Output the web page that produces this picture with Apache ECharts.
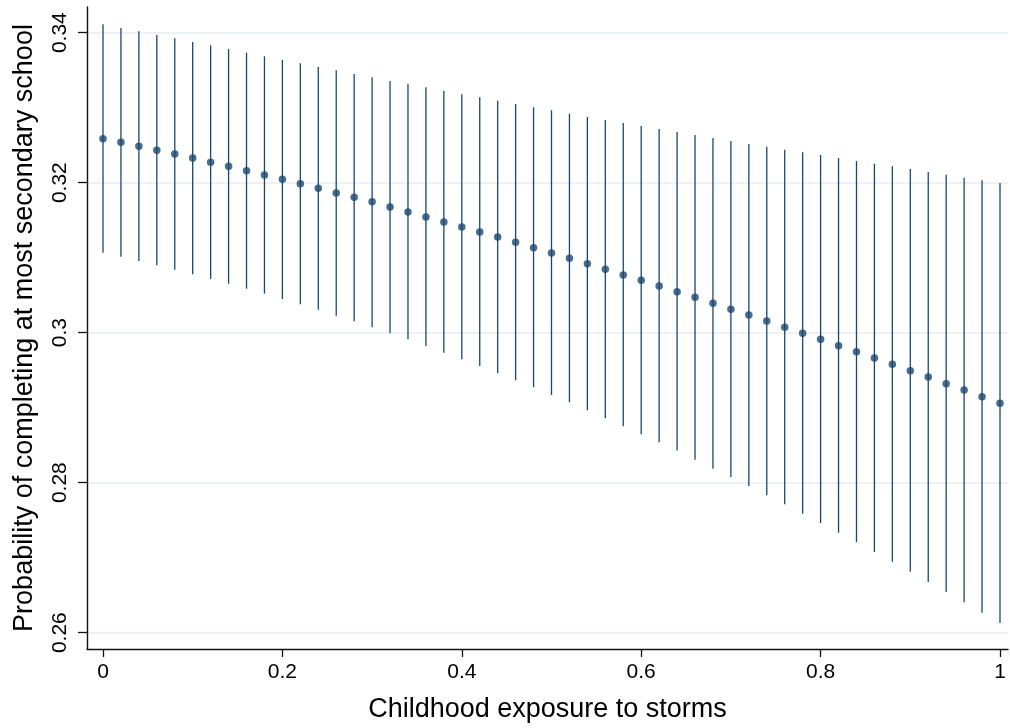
<!DOCTYPE html>
<html>
<head>
<meta charset="utf-8">
<script src="https://cdn.jsdelivr.net/npm/echarts@6/dist/echarts.min.js"></script>
<style>
html,body{margin:0;padding:0;background:#fff;}
#chart{width:1010px;height:728px;}
</style>
</head>
<body>
<div id="chart"></div>
<script>
// Childhood exposure to storms (x)
const exposure = [0,0.02,0.04,0.06,0.08,0.1,0.12,0.14,0.16,0.18,0.2,0.22,0.24,0.26,0.28,0.3,0.32,0.34,0.36,0.38,0.4,0.42,0.44,0.46,0.48,0.5,0.52,0.54,0.56,0.58,0.6,0.62,0.64,0.66,0.68,0.7,0.72,0.74,0.76,0.78,0.8,0.82,0.84,0.86,0.88,0.9,0.92,0.94,0.96,0.98,1];
// Point estimates
const estimate = [0.32587,0.32539,0.32485,0.32432,0.32383,0.32329,0.32272,0.32219,0.3216,0.32103,0.32045,0.31987,0.31925,0.31863,0.31805,0.31747,0.31676,0.31609,0.31543,0.31476,0.31409,0.31343,0.31276,0.31205,0.31133,0.31063,0.30992,0.3092,0.30845,0.30769,0.30699,0.30623,0.30547,0.30472,0.30392,0.30312,0.30236,0.30156,0.30072,0.29992,0.29912,0.29827,0.29747,0.29663,0.29579,0.29493,0.29409,0.2932,0.29236,0.29147,0.29059];
// Upper CI bound
const upper = [0.34112,0.34062,0.34018,0.33969,0.33925,0.33876,0.33832,0.33782,0.33733,0.33685,0.33636,0.33592,0.33542,0.33498,0.33449,0.33405,0.33356,0.33316,0.33272,0.33222,0.33178,0.33138,0.33093,0.33049,0.33005,0.32965,0.3292,0.32876,0.32836,0.32796,0.32756,0.32716,0.32676,0.32636,0.32596,0.32556,0.32516,0.3248,0.3244,0.32405,0.32369,0.32329,0.32289,0.32253,0.32218,0.32182,0.32142,0.32106,0.32066,0.32032,0.31996];
// Lower CI bound
const lower = [0.31066,0.31013,0.30956,0.30898,0.3084,0.30778,0.30716,0.30653,0.30586,0.3052,0.30449,0.30378,0.30306,0.30226,0.30152,0.30072,0.29992,0.29912,0.29822,0.29733,0.29645,0.29556,0.29458,0.29365,0.29272,0.29169,0.29072,0.28965,0.28858,0.28752,0.28645,0.2854,0.28428,0.28306,0.28185,0.28076,0.27956,0.27832,0.27712,0.27586,0.27462,0.27333,0.27205,0.27076,0.26946,0.26813,0.26676,0.26542,0.26405,0.26266,0.26129];
// Tick labels
const xTicks = [0,0.2,0.4,0.6,0.8,1];
const yTicks = [0.26,0.28,0.3,0.32,0.34];

const NAVY = '#1a476f';
const FONT = '"Liberation Sans", Arial, Helvetica, sans-serif';

const ciData = exposure.map((x, i) => [x, lower[i], upper[i]]);
const ptData = exposure.map((x, i) => [x, estimate[i]]);

const chart = echarts.init(document.getElementById('chart'), null, {renderer: 'canvas'});
chart.setOption({
  animation: false,
  backgroundColor: '#ffffff',
  grid: {left: 87, right: 2, top: 7, bottom: 79, containLabel: false, outerBoundsMode: 'none'},
  xAxis: {
    type: 'value',
    min: -0.017837,
    max: 1.00892,
    name: 'Childhood exposure to storms',
    nameLocation: 'middle',
    nameGap: 47,
    nameTextStyle: {fontSize: 27, color: '#000', fontFamily: FONT},
    axisLine: {show: true, onZero: false, lineStyle: {color: '#111', width: 1.4}},
    axisTick: {show: true, length: 8, customValues: xTicks, lineStyle: {color: '#111', width: 1.3}},
    axisLabel: {customValues: xTicks, fontSize: 21, color: '#000', fontFamily: FONT, margin: 13,
      formatter: v => String(v)},
    splitLine: {show: false}
  },
  yAxis: {
    type: 'value',
    min: 0.257823,
    max: 0.343423,
    name: 'Probability of completing at most secondary school',
    nameLocation: 'middle',
    nameGap: 49,
    nameRotate: 90,
    nameTextStyle: {fontSize: 27, color: '#000', fontFamily: FONT},
    axisLine: {show: true, onZero: false, lineStyle: {color: '#111', width: 1.4}},
    axisTick: {show: true, length: 9, customValues: yTicks, lineStyle: {color: '#111', width: 1.3}},
    axisLabel: {customValues: yTicks, rotate: 90, fontSize: 21, color: '#000', fontFamily: FONT, margin: 16,
      formatter: v => String(v)},
    splitLine: {show: true, lineStyle: {color: '#e6edf0', width: 1.6}}
  },
  series: [
    {
      type: 'custom',
      name: 'CI',
      data: ciData,
      encode: {x: 0, y: [1, 2]},
      renderItem: function (params, api) {
        const p1 = api.coord([api.value(0), api.value(1)]);
        const p2 = api.coord([api.value(0), api.value(2)]);
        return {
          type: 'line',
          shape: {x1: p1[0], y1: p1[1], x2: p2[0], y2: p2[1]},
          style: {stroke: NAVY, lineWidth: 1.3}
        };
      },
      z: 2
    },
    {
      type: 'scatter',
      name: 'Estimate',
      data: ptData,
      symbol: 'circle',
      symbolSize: 7.5,
      itemStyle: {color: NAVY},
      z: 3
    }
  ]
});
</script>
</body>
</html>
